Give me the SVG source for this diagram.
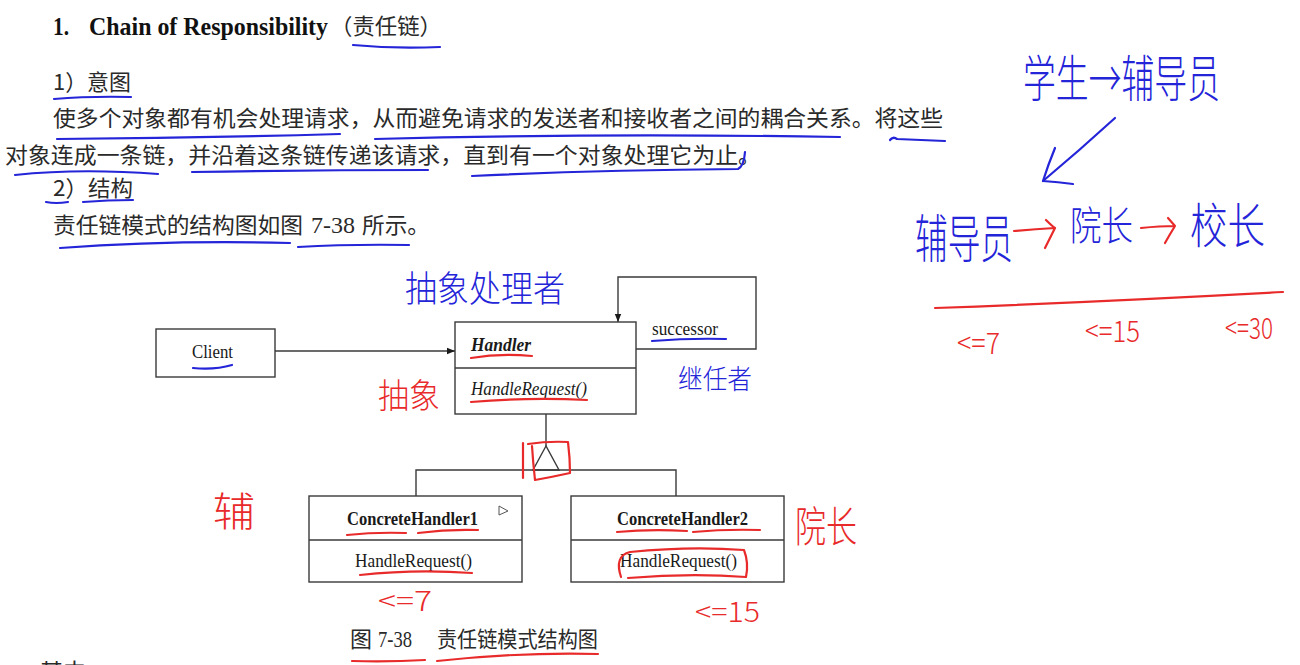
<svg xmlns="http://www.w3.org/2000/svg" width="1300" height="665" viewBox="0 0 1300 665">
<defs>
<style>
.body{font-family:"Liberation Serif","Noto Sans CJK SC",serif;font-size:23px;fill:#2a2a2a}
.cjk{font-family:"Noto Sans CJK SC",sans-serif;font-size:22px;fill:#2a2a2a}
.title{font-family:"Liberation Serif",serif;font-size:25px;font-weight:bold;fill:#111}
.uml{font-family:"Liberation Serif",serif;font-size:19px;fill:#1a1a1a}
.box{fill:#fff;stroke:#3a3a3a;stroke-width:1.4}
.wire{fill:none;stroke:#3a3a3a;stroke-width:1.4}
.bl{fill:none;stroke:#2424d8;stroke-width:2.2;stroke-linecap:round;stroke-linejoin:round}
.rd{fill:none;stroke:#e82a2a;stroke-width:2.2;stroke-linecap:round;stroke-linejoin:round}
.hb{font-family:"Noto Sans CJK SC",sans-serif;font-weight:300;fill:#2424d8}
.hr{font-family:"Noto Sans CJK SC",sans-serif;font-weight:300;fill:#e82a2a}
</style>
<marker id="arr" viewBox="0 0 10 10" refX="10" refY="5" markerWidth="10" markerHeight="8" markerUnits="userSpaceOnUse" orient="auto">
<path d="M0,1 L10,5 L0,9 Z" fill="#1a1a1a"/>
</marker>
</defs>
<rect width="1300" height="665" fill="#fff"/>

<!-- printed text -->
<g id="text">
<text class="title" x="53" y="35" textLength="16" lengthAdjust="spacingAndGlyphs">1.</text>
<text class="title" x="89" y="35" textLength="239" lengthAdjust="spacingAndGlyphs">Chain of Responsibility</text>
<text class="cjk" x="330" y="34" font-size="23" textLength="112" lengthAdjust="spacingAndGlyphs" fill="#111">（责任链）</text>
<text class="cjk" x="53" y="90" textLength="78" lengthAdjust="spacingAndGlyphs">1）意图</text>
<text class="cjk" x="53" y="126" textLength="890" lengthAdjust="spacingAndGlyphs">使多个对象都有机会处理请求，从而避免请求的发送者和接收者之间的耦合关系。将这些</text>
<text class="cjk" x="5" y="163" textLength="756" lengthAdjust="spacingAndGlyphs">对象连成一条链，并沿着这条链传递该请求，直到有一个对象处理它为止。</text>
<text class="cjk" x="53" y="196" textLength="80" lengthAdjust="spacingAndGlyphs">2）结构</text>
<text class="cjk" x="53" y="233" textLength="250" lengthAdjust="spacingAndGlyphs">责任链模式的结构图如图</text>
<text class="body" x="311" y="233" textLength="44" lengthAdjust="spacingAndGlyphs">7-38</text>
<text class="cjk" x="362" y="233" textLength="68" lengthAdjust="spacingAndGlyphs">所示。</text>
<text class="cjk" x="350" y="647" font-size="21" textLength="22" lengthAdjust="spacingAndGlyphs">图</text>
<text class="body" x="378" y="647" font-size="21" textLength="34" lengthAdjust="spacingAndGlyphs">7-38</text>
<text class="cjk" x="437" y="647" font-size="21" textLength="161" lengthAdjust="spacingAndGlyphs">责任链模式结构图</text>
<text class="cjk" x="40" y="679" textLength="46" lengthAdjust="spacingAndGlyphs">其中</text>
</g>

<!-- connectors -->
<g id="connectors">
<line class="wire" x1="275" y1="351" x2="455" y2="351" marker-end="url(#arr)"/>
<polyline class="wire" points="636,349 756,349 756,277 618,277 618,322" marker-end="url(#arr)"/>
<line class="wire" x1="546" y1="414" x2="546" y2="446"/>
<polygon points="546,446 533,470 559,470" fill="#fff" stroke="#3a3a3a" stroke-width="1.4"/>
<polyline class="wire" points="416,496 416,470 676,470 676,496"/>
</g>

<g id="client">
<rect class="box" x="156" y="329" width="119" height="48"/>
<text class="uml" x="192" y="358" textLength="41" lengthAdjust="spacingAndGlyphs">Client</text>
</g>
<g id="handler">
<rect class="box" x="455" y="322" width="181" height="92"/>
<line class="wire" x1="455" y1="368" x2="636" y2="368"/>
<text class="uml" x="471" y="351" font-weight="bold" font-style="italic" textLength="60" lengthAdjust="spacingAndGlyphs">Handler</text>
<text class="uml" x="471" y="395" font-style="italic" textLength="116" lengthAdjust="spacingAndGlyphs">HandleRequest()</text>
</g>
<g id="successor-label">
<text class="uml" x="652" y="335" font-size="17" textLength="66" lengthAdjust="spacingAndGlyphs">successor</text>
</g>
<g id="concrete1">
<rect class="box" x="309" y="496" width="213" height="86"/>
<line class="wire" x1="309" y1="540" x2="522" y2="540"/>
<text class="uml" x="347" y="525" font-weight="bold" textLength="131" lengthAdjust="spacingAndGlyphs">ConcreteHandler1</text>
<text class="uml" x="355" y="567" textLength="117" lengthAdjust="spacingAndGlyphs">HandleRequest()</text>
</g>
<g id="concrete2">
<rect class="box" x="571" y="496" width="213" height="86"/>
<line class="wire" x1="571" y1="540" x2="784" y2="540"/>
<text class="uml" x="617" y="525" font-weight="bold" textLength="131" lengthAdjust="spacingAndGlyphs">ConcreteHandler2</text>
<text class="uml" x="620" y="567" textLength="117" lengthAdjust="spacingAndGlyphs">HandleRequest()</text>
</g>

<!-- mouse cursor -->
<path d="M499,506 L499,515 L508,511 Z" fill="#fff" stroke="#555" stroke-width="1"/>

<!-- blue underlines -->
<g id="blue-marks">
<path class="bl" d="M353,45 Q395,49 440,47"/>
<path class="bl" d="M54,99 Q90,96 131,97"/>
<path class="bl" d="M57,139 Q200,138 340,134"/>
<path class="bl" d="M375,139 Q600,133 840,137"/>
<path class="bl" d="M890,140 Q893,136 897,139 Q920,140 945,141"/>
<path class="bl" d="M15,175 Q80,168 158,174"/>
<path class="bl" d="M192,172 Q310,170 428,170"/>
<path class="bl" d="M472,176 Q600,170 738,169 Q744,166 745,152"/>
<path class="bl" d="M46,202 Q56,204 68,202"/>
<path class="bl" d="M83,202 Q108,200 133,200"/>
<path class="bl" d="M60,248 Q170,240 290,243"/>
<path class="bl" d="M298,247 Q350,244 409,245"/>
<path class="bl" d="M193,368 Q215,370 232,365"/>
<path class="bl" d="M652,341 Q690,338 726,339"/>
<path class="bl" d="M1115,118 Q1080,150 1043,181"/>
<path class="bl" d="M1055,148 Q1048,165 1043,181 Q1058,182 1073,184"/>
</g>

<!-- red marks -->
<g id="red-marks">
<path class="rd" d="M471,358 Q500,353 532,356"/>
<path class="rd" d="M471,402 Q530,397 587,400"/>
<path class="rd" d="M347,535 Q375,532 406,533"/>
<path class="rd" d="M418,533 Q448,529 478,530"/>
<path class="rd" d="M360,575 Q415,569 472,573"/>
<path class="rd" d="M617,532 Q650,529 687,531"/>
<path class="rd" d="M693,532 Q725,529 760,530"/>
<path class="rd" d="M621,577 Q614,556 630,552 Q690,546 744,550 Q749,563 746,577 Q690,573 628,578"/>
<path class="rd" d="M523,443 L523,478"/>
<path class="rd" d="M528,444 Q548,441 568,442 Q570,458 570,473 Q552,477 535,480 Q533,462 532,446"/>
<path class="rd" d="M352,661 Q390,662 425,660"/>
<path class="rd" d="M437,661 Q520,652 598,654"/>
<path class="rd" d="M935,308 Q1100,302 1283,292"/>
<path class="rd" d="M1014,231 Q1035,229 1055,228 M1046,220 Q1052,226 1055,228 Q1050,238 1045,248"/>
<path class="rd" d="M1141,228 Q1160,226 1175,226 M1168,218 L1175,226 Q1170,234 1165,243"/>
</g>

<!-- handwritten notes -->
<g id="notes">
<text class="hb" x="405" y="302" font-size="36" textLength="160" lengthAdjust="spacingAndGlyphs">抽象处理者</text>
<text class="hb" x="678" y="389" font-size="27" textLength="74" lengthAdjust="spacingAndGlyphs">继任者</text>
<text class="hb" x="1023" y="97" font-size="50" textLength="197" lengthAdjust="spacingAndGlyphs">学生→辅导员</text>
<text class="hb" x="915" y="258" font-size="52" textLength="98" lengthAdjust="spacingAndGlyphs">辅导员</text>
<text class="hb" x="1070" y="240" font-size="40" textLength="63" lengthAdjust="spacingAndGlyphs">院长</text>
<text class="hb" x="1190" y="243" font-size="48" textLength="75" lengthAdjust="spacingAndGlyphs">校长</text>
<text class="hr" x="957" y="354" font-size="30" textLength="43" lengthAdjust="spacingAndGlyphs">&lt;=7</text>
<text class="hr" x="1085" y="342" font-size="30" textLength="55" lengthAdjust="spacingAndGlyphs">&lt;=15</text>
<text class="hr" x="1225" y="339" font-size="30" textLength="48" lengthAdjust="spacingAndGlyphs">&lt;=30</text>
<text class="hr" x="378" y="408" font-size="34" textLength="62" lengthAdjust="spacingAndGlyphs">抽象</text>
<text class="hr" x="213" y="526" font-size="40" textLength="42" lengthAdjust="spacingAndGlyphs">辅</text>
<text class="hr" x="795" y="542" font-size="42" textLength="62" lengthAdjust="spacingAndGlyphs">院长</text>
<text class="hr" x="378" y="611" font-size="28" textLength="54" lengthAdjust="spacingAndGlyphs">&lt;=7</text>
<text class="hr" x="695" y="622" font-size="28" textLength="65" lengthAdjust="spacingAndGlyphs">&lt;=15</text>
</g>
</svg>
